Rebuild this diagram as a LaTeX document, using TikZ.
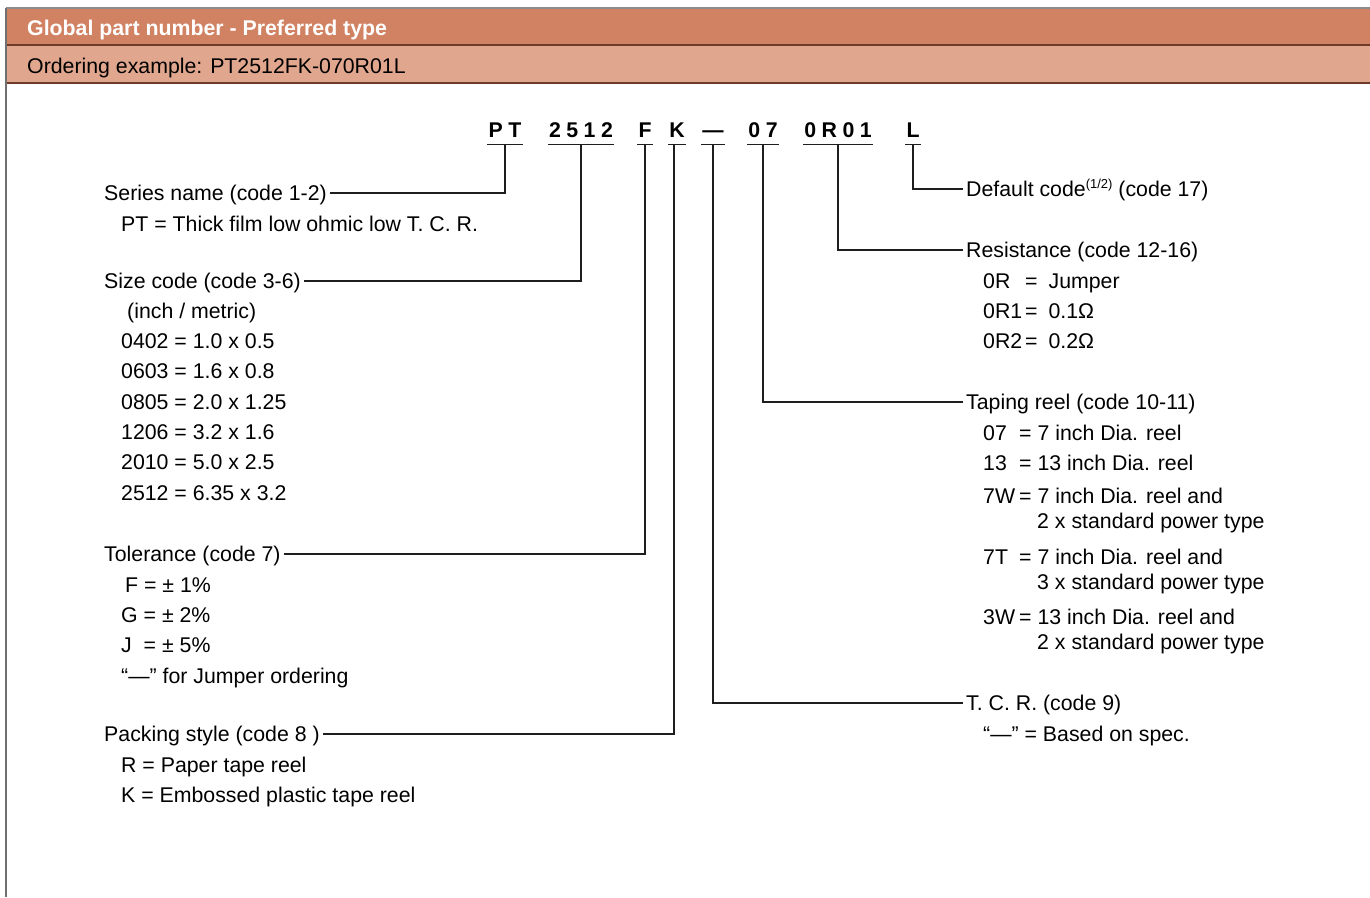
\documentclass[tikz,border=0pt]{standalone}
\usepackage{fontspec}
\setmainfont{Liberation Sans}
\usepackage{tikz}
\usetikzlibrary{positioning,calc}
\definecolor{ink}{HTML}{1E1E1E}
\definecolor{hdr}{HTML}{D08262}
\definecolor{subhdr}{HTML}{E0A68E}
\definecolor{rim}{HTML}{8C8C8C}
\definecolor{seam}{HTML}{6E3B2A}
\newcommand\basefont{\fontsize{21.3}{30}\selectfont}
\newcommand\ls{\kern5.5pt}
\newcommand\keybox[2]{\makebox[#1][l]{#2}}
\tikzset{
 every node/.style={font=\basefont},
 head/.style={font=\basefont\bfseries\color{white},anchor=base west,inner sep=0pt},
 plain/.style={anchor=base west,inner sep=0pt},
 code/.style={font=\basefont\bfseries,anchor=base,inner sep=0pt,inner xsep=1pt,text height=15pt,text depth=7pt},
 lbl/.style={anchor=base west,inner sep=0pt,inner xsep=3pt,text height=15pt,text depth=1pt},
 item/.style={anchor=base west,inner sep=0pt},
 lead/.style={draw=ink,line width=1.2pt},
 uline/.style={draw=ink,line width=1.2pt}}

\begin{document}
\begin{tikzpicture}[x=1pt,y=-1pt]
\useasboundingbox (0,0) rectangle (1370,897);

% title bars
\fill[hdr] (6,8) rectangle (1370,45);
\fill[subhdr] (6,45) rectangle (1370,83);
\draw[rim,line width=1.2pt] (6,8) -- (1370,8);
\draw[seam,line width=1.2pt] (6,45) -- (1370,45);
\draw[seam,line width=1.2pt] (6,83) -- (1370,83);
\draw[rim!80!black,line width=1.2pt] (6,8) -- (6,897);
\node[head] (title) at (27,35) {Global part number - Preferred type};
\node[plain] (example) at (27,73) {Ordering example: PT2512FK-070R01L};

% code row
\node[code] (codept) at (505,137) {P\ls T};
\node[code] (codesize) at (581,137) {2\ls 5\ls 1\ls 2};
\node[code] (codetol) at (645,137) {F};
\node[code] (codepack) at (677,137) {K};
\node[code] (codetcr) at (713,137) {—};
\node[code] (codereel) at (763,137) {0\ls 7};
\node[code] (coderes) at (838,137) {0\ls R\ls 0\ls 1};
\node[code] (codedef) at (913,137) {L};
\draw[uline] (codept.south west) -- (codept.south east);
\draw[uline] (codesize.south west) -- (codesize.south east);
\draw[uline] (codetol.south west) -- (codetol.south east);
\draw[uline] (codepack.south west) -- (codepack.south east);
\draw[uline] (codetcr.south west) -- (codetcr.south east);
\draw[uline] (codereel.south west) -- (codereel.south east);
\draw[uline] (coderes.south west) -- (coderes.south east);
\draw[uline] (codedef.south west) -- (codedef.south east);

% left column
\node[lbl] (series) at (101,200) {Series name (code 1-2)};
\node[item] (seriesa) at (121,231) {PT = Thick film low ohmic low T. C. R.};

\node[lbl] (size) at (101,288) {Size code (code 3-6)};
\node[item] (sizea) at (127,318) {(inch / metric)};
\node[item] (sizeb) at (121,348) {0402 = 1.0 x 0.5};
\node[item] (sizec) at (121,378) {0603 = 1.6 x 0.8};
\node[item] (sized) at (121,409) {0805 = 2.0 x 1.25};
\node[item] (sizee) at (121,439) {1206 = 3.2 x 1.6};
\node[item] (sizef) at (121,469) {2010 = 5.0 x 2.5};
\node[item] (sizeg) at (121,500) {2512 = 6.35 x 3.2};

\node[lbl] (tol) at (101,561) {Tolerance (code 7)};
\node[item] (tola) at (125,592) {F = ± 1\%};
\node[item] (tolb) at (121,622) {G = ± 2\%};
\node[item] (tolc) at (121,652) {\keybox{16.6pt}{J} = ± 5\%};
\node[item] (told) at (121,683) {“—” for Jumper ordering};

\node[lbl] (pack) at (101,741) {Packing style (code 8 )};
\node[item] (packa) at (121,772) {R = Paper tape reel};
\node[item] (packb) at (121,802) {K = Embossed plastic tape reel};

% right column
\node[lbl] (deflt) at (963,196) {Default code\raisebox{8pt}{\fontsize{13}{13}\selectfont(1/2)} (code 17)};

\node[lbl] (resist) at (963,257) {Resistance (code 12-16)};
\node[item] (resista) at (983,288) {\keybox{42pt}{0R}=\hspace{11pt}Jumper};
\node[item] (resistb) at (983,318) {\keybox{42pt}{0R1}=\hspace{11pt}0.1Ω};
\node[item] (resistc) at (983,348) {\keybox{42pt}{0R2}=\hspace{11pt}0.2Ω};

\node[lbl] (taping) at (963,409) {Taping reel (code 10-11)};
\node[item] (tapinga) at (983,440) {\keybox{36pt}{07}= 7 inch Dia. reel};
\node[item] (tapingb) at (983,470) {\keybox{36pt}{13}= 13 inch Dia. reel};
\node[item] (tapingc) at (983,503) {\keybox{36pt}{7W}= 7 inch Dia. reel and};
\node[item] (tapingc2) at (1037,528) {2 x standard power type};
\node[item] (tapingd) at (983,564) {\keybox{36pt}{7T}= 7 inch Dia. reel and};
\node[item] (tapingd2) at (1037,589) {3 x standard power type};
\node[item] (tapinge) at (983,624) {\keybox{36pt}{3W}= 13 inch Dia. reel and};
\node[item] (tapinge2) at (1037,649) {2 x standard power type};

\node[lbl] (tcr) at (963,710) {T. C. R. (code 9)};
\node[item] (tcra) at (983,741) {“—” = Based on spec.};

% leaders
\draw[lead] (codept.south) |- (series.east);
\draw[lead] (codesize.south) |- (size.east);
\draw[lead] (codetol.south) |- (tol.east);
\draw[lead] ([xshift=-3pt]codepack.south) |- (pack.east);
\draw[lead] (codetcr.south) |- (tcr.west);
\draw[lead] (codereel.south) |- (taping.west);
\draw[lead] (coderes.south) |- (resist.west);
\draw[lead] (codedef.south) |- (deflt.west);
\end{tikzpicture}
\end{document}
